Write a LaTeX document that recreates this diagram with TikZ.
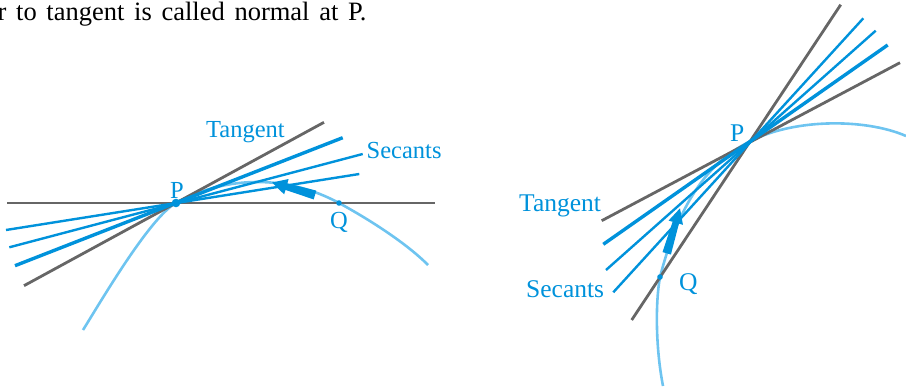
\documentclass[tikz,border=0pt]{standalone}
\usepackage{fontspec}
\setmainfont{Liberation Serif}
\usetikzlibrary{calc}
\definecolor{lineblue}{RGB}{0,146,219}
\definecolor{curveblue}{RGB}{110,196,240}
\definecolor{linegray}{RGB}{102,102,102}
\begin{document}
\begin{tikzpicture}[x=1pt,y=-1pt,
  grayline/.style={draw=linegray,line width=2.8pt},
  secline/.style={draw=lineblue,line width=2.4pt},
  thickline/.style={draw=lineblue,line width=3.4pt},
  curveline/.style={draw=curveblue,line width=2.6pt},
  lblL/.style={text=lineblue,inner sep=0pt,anchor=base west,font=\fontsize{24.5}{29}\selectfont},
  lblR/.style={text=lineblue,inner sep=0pt,anchor=base west,font=\fontsize{25.5}{30}\selectfont},
  dotstyle/.style={fill=lineblue}]
\useasboundingbox (0,0) rectangle (906,386);

% top text
\node[anchor=base east,inner sep=0pt,font=\fontsize{26.5}{31}\selectfont] (toptext) at (366.7,20.7)
  {\spaceskip=9.7pt\relax r to tangent is called normal at P.};

% ---------- left figure ----------
\coordinate (P1) at (176,203);
\coordinate (Q1) at (339,203);
\draw[curveline] (83,330) .. controls (99,304.5) and (149.7,217.3) .. (P1)
  .. controls (227.4,175) and (287.6,175) .. (Q1)
  .. controls (369.7,219.7) and (407,243.7) .. (428,265);
\draw[grayline] (7,203) -- (435,203);
\draw[grayline] (24,285.7) -- (324,122.3);
\draw[thickline] (15,265.7) -- (342.7,137.7);
\draw[secline] (9.3,247.3) -- (362.7,154);
\draw[secline] (6,230) -- (359.3,174);
% arrow
\coordinate (la0) at (315,195);
\coordinate (la1) at (272,182.5);
\coordinate (lahb) at ($(la1)!15pt!(la0)$);
\fill[lineblue] ($(la0)!4.6pt!90:(la1)$) -- ($(lahb)!3.4pt!90:(la1)$) -- ($(lahb)!8pt!90:(la1)$)
  -- (la1) -- ($(lahb)!8pt!-90:(la1)$) -- ($(lahb)!3.4pt!-90:(la1)$) -- ($(la0)!4.6pt!-90:(la1)$) -- cycle;
\fill[dotstyle] (P1) circle (4.3);
\fill[dotstyle] (Q1) circle (2.8);
\node[lblL] (pl) at (170,198) {P};
\node[lblL] (ql) at (330,228.5) {Q};
\node[lblL] (tl) at (206,137.5) {Tangent};
\node[lblL] (sl) at (366.5,158.5) {Secants};

% ---------- right figure ----------
\coordinate (P2) at (745,144);
\coordinate (Q2) at (660,277);
\draw[curveline] (663,386) .. controls (656,350) and (655,305) .. (Q2)
  .. controls (673.8,223.7) and (696.6,169.9) .. (P2)
  .. controls (790,118) and (865,118) .. (906,136);
\draw[grayline] (840.7,4.7) -- (631.7,320);
\draw[grayline] (900,62.7) -- (601.7,220.7);
\draw[thickline] (603.3,244.3) -- (887.7,45);
\draw[secline] (606,270) -- (875.7,30.7);
\draw[secline] (613.3,292.3) -- (863.3,18.3);
% arrow
\coordinate (ra0) at (666.7,253.3);
\coordinate (ra1) at (680,208.3);
\coordinate (rahb) at ($(ra1)!15pt!(ra0)$);
\fill[lineblue] ($(ra0)!4.4pt!90:(ra1)$) -- ($(rahb)!3.3pt!90:(ra1)$) -- ($(rahb)!7.5pt!90:(ra1)$)
  -- (ra1) -- ($(rahb)!7.5pt!-90:(ra1)$) -- ($(rahb)!3.3pt!-90:(ra1)$) -- ($(ra0)!4.4pt!-90:(ra1)$) -- cycle;
\fill[dotstyle] (Q2) circle (2.8);
\node[lblR] (pr) at (730,141.7) {P};
\node[lblR] (qr) at (679,290) {Q};
\node[lblR] (tr) at (519,211.5) {Tangent};
\node[lblR] (sr) at (526,297) {Secants};
\end{tikzpicture}
\end{document}
